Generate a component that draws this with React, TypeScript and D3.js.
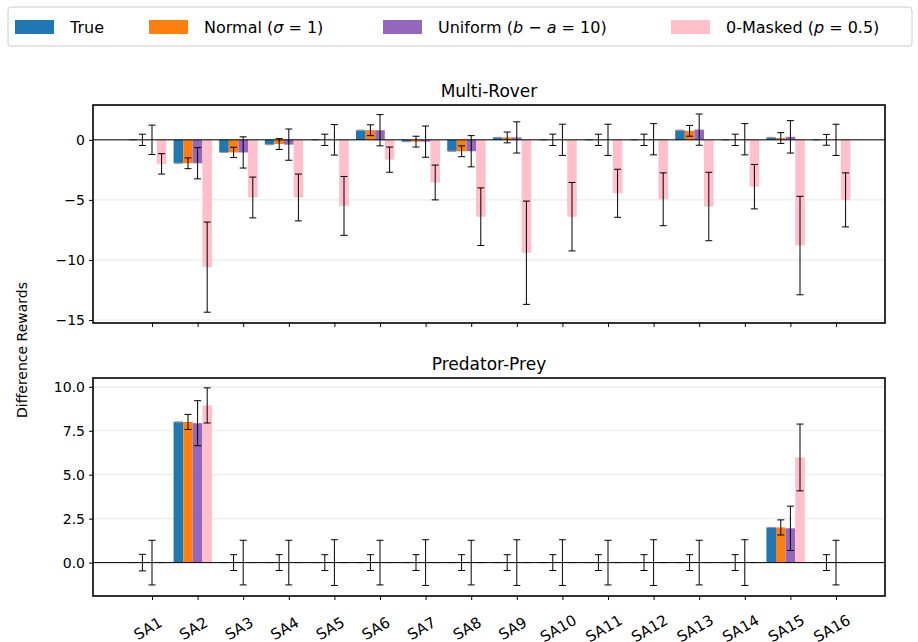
import React, { useEffect, useRef } from "react";
import * as d3 from "d3";

const agents = ["SA1","SA2","SA3","SA4","SA5","SA6","SA7","SA8","SA9","SA10","SA11","SA12","SA13","SA14","SA15","SA16"];

// Multi-Rover
const roverTrue = [0, -1.95, -1.05, -0.4, 0, 0.8, -0.15, -0.95, 0.2, 0, 0, 0, 0.8, 0, 0.2, 0];
const roverNormal = [0, -1.95, -1.05, -0.35, 0, 0.8, -0.15, -0.95, 0.2, 0, 0, 0, 0.75, 0, 0.15, 0];
const roverNormalErr = [0.47, 0.45, 0.43, 0.45, 0.47, 0.45, 0.45, 0.45, 0.45, 0.47, 0.47, 0.47, 0.45, 0.47, 0.45, 0.45];
const roverUniform = [0, -1.95, -1.05, -0.4, 0, 0.8, -0.15, -0.95, 0.2, 0, 0, 0.05, 0.85, 0.05, 0.25, 0];
const roverUniformErr = [1.22, 1.3, 1.3, 1.3, 1.27, 1.3, 1.3, 1.3, 1.3, 1.3, 1.3, 1.3, 1.3, 1.3, 1.35, 1.3];
const roverMasked = [-2.0, -10.6, -4.8, -4.8, -5.5, -1.65, -3.55, -6.4, -9.4, -6.4, -4.45, -4.95, -5.55, -3.9, -8.8, -5.0];
const roverMaskedErr = [0.85, 3.75, 1.7, 1.95, 2.45, 1.05, 1.45, 2.4, 4.3, 2.85, 2.0, 2.2, 2.85, 1.85, 4.1, 2.25];

// Predator-Prey
const predTrue = [0, 8.0, 0, 0, 0, 0, 0, 0, 0, 0, 0, 0, 0, 0, 2.0, 0];
const predNormal = [0, 8.0, 0, 0, 0, 0, 0, 0, 0, 0, 0, 0, 0, 0, 2.0, 0];
const predNormalErr = [0.47, 0.43, 0.45, 0.45, 0.45, 0.45, 0.45, 0.45, 0.45, 0.45, 0.45, 0.45, 0.45, 0.45, 0.43, 0.45];
const predUniform = [0, 7.93, 0, 0, 0, 0, 0, 0, 0, 0, 0, 0, 0, 0, 1.95, 0];
const predUniformErr = [1.27, 1.28, 1.27, 1.27, 1.3, 1.27, 1.3, 1.27, 1.3, 1.3, 1.27, 1.3, 1.27, 1.3, 1.26, 1.27];
const predMasked = [0, 8.94, 0, 0, 0, 0, 0, 0, 0, 0, 0, 0, 0, 0, 5.98, 0];
const predMaskedErr = [0, 1.0, 0, 0, 0, 0, 0, 0, 0, 0, 0, 0, 0, 0, 1.9, 0];

const roverTicks = [0, -5, -10, -15];
const predTicks = [0, 2.5, 5, 7.5, 10];

const colors = ["#1f77b4", "#ff7f0e", "#9467bd", "#ffc0cb"];
const font = "DejaVu Sans, sans-serif";

export default function App() {
  const ref = useRef<SVGSVGElement>(null);

  useEffect(() => {
    const svg = d3.select(ref.current);
    svg.selectAll("*").remove();
    const left = 93, right = 885;
    const x = d3.scaleLinear().domain([0, 15]).range([152, 836]);
    const w = 9.6;

    const panels = [
      {
        title: "Multi-Rover", titleY: 97, top: 105, bottom: 323, domain: [-15.25, 2.9], ticks: roverTicks,
        fmt: (d: number) => String(d).replace("-", "\u2212"),
        series: [
          [roverTrue, roverTrue.map(() => 0)],
          [roverNormal, roverNormalErr],
          [roverUniform, roverUniformErr],
          [roverMasked, roverMaskedErr],
        ],
        showX: false,
      },
      {
        title: "Predator-Prey", titleY: 370, top: 378, bottom: 596, domain: [-1.9, 10.5], ticks: predTicks,
        fmt: (d: number) => d.toFixed(1),
        series: [
          [predTrue, predTrue.map(() => 0)],
          [predNormal, predNormalErr],
          [predUniform, predUniformErr],
          [predMasked, predMaskedErr],
        ],
        showX: true,
      },
    ];

    panels.forEach((p) => {
      const y = d3.scaleLinear().domain(p.domain).range([p.bottom, p.top]);
      const g = svg.append("g");
      const clipId = "clip-" + p.top;
      svg.append("clipPath").attr("id", clipId).append("rect")
        .attr("x", left).attr("y", p.top).attr("width", right - left).attr("height", p.bottom - p.top);
      const plot = g.append("g").attr("clip-path", `url(#${clipId})`);

      plot.selectAll("line.grid").data(p.ticks).join("line")
        .attr("x1", left).attr("x2", right)
        .attr("y1", (d) => y(d)).attr("y2", (d) => y(d))
        .attr("stroke", "#ebebeb").attr("stroke-width", 1.2);

      p.series.forEach(([vals], si) => {
        const cx = (i: number) => x(i) + (si - 2) * w;
        plot.selectAll(`rect.s${si}`).data(vals).join("rect")
          .attr("x", (_d, i) => cx(i) - w / 2)
          .attr("width", w)
          .attr("y", (d) => Math.min(y(d), y(0)))
          .attr("height", (d) => Math.abs(y(d) - y(0)))
          .attr("fill", colors[si]);
      });
      p.series.forEach(([vals, errs], si) => {
        const cx = (i: number) => x(i) + (si - 2) * w;
        const eg = plot.append("g").attr("stroke", "#000").attr("stroke-width", 1);
        vals.forEach((v, i) => {
          const e = errs[i];
          const c = cx(i);
          eg.append("line").attr("x1", c).attr("x2", c).attr("y1", y(v - e)).attr("y2", y(v + e));
          [v - e, v + e].forEach((yy) =>
            eg.append("line").attr("x1", c - 3.5).attr("x2", c + 3.5).attr("y1", y(yy)).attr("y2", y(yy))
              .attr("stroke", e === 0 ? "#999" : "#000"));
        });
      });

      plot.append("line").attr("x1", left).attr("x2", right).attr("y1", y(0)).attr("y2", y(0))
        .attr("stroke", "#000").attr("stroke-width", 1);

      g.append("rect").attr("x", left).attr("y", p.top).attr("width", right - left).attr("height", p.bottom - p.top)
        .attr("fill", "none").attr("stroke", "#000").attr("stroke-width", 1.6);

      const ya = g.append("g").attr("transform", `translate(${left},0)`)
        .call(d3.axisLeft(y).tickValues(p.ticks).tickSize(4).tickPadding(4).tickFormat((d) => p.fmt(d as number)));
      ya.select(".domain").remove();
      ya.selectAll("text").attr("font-size", 14).attr("font-family", font).attr("fill", "#000");

      const xa = g.append("g").attr("transform", `translate(0,${p.bottom})`)
        .call(d3.axisBottom(x).tickValues(d3.range(16)).tickSize(4).tickFormat((d) => agents[d as number]));
      xa.select(".domain").remove();
      if (p.showX) {
        xa.selectAll(".tick text").attr("font-size", 15).attr("font-family", font).attr("fill", "#000")
          .attr("text-anchor", "middle").attr("x", 0).attr("y", 0).attr("dy", 0)
          .attr("transform", "translate(-2,37) rotate(-30)");
      } else {
        xa.selectAll("text").remove();
      }

      svg.append("text").attr("x", (left + right) / 2).attr("y", p.titleY)
        .attr("text-anchor", "middle").attr("font-size", 17).attr("font-family", font).text(p.title);
    });

    svg.append("text").attr("transform", "translate(27,350) rotate(-90)")
      .attr("text-anchor", "middle").attr("font-size", 14).attr("font-family", font).text("Difference Rewards");

    // legend
    const lg = svg.append("g");
    lg.append("rect").attr("x", 8).attr("y", 7).attr("width", 904).attr("height", 39).attr("rx", 3)
      .attr("fill", "#fff").attr("stroke", "#ccc");
    const entries: [number, number, string[][]][] = [
      [15, 70, [["True", ""]]],
      [149, 204, [["Normal (", ""], ["σ", "i"], [" = 1)", ""]]],
      [383, 438, [["Uniform (", ""], ["b", "i"], [" − ", ""], ["a", "i"], [" = 10)", ""]]],
      [671, 726, [["0-Masked (", ""], ["p", "i"], [" = 0.5)", ""]]],
    ];
    entries.forEach(([px, tx, parts], i) => {
      lg.append("rect").attr("x", px).attr("y", 20).attr("width", 39).attr("height", 14).attr("fill", colors[i]);
      const t = lg.append("text").attr("x", tx).attr("y", 33).attr("font-size", 16).attr("font-family", font);
      parts.forEach(([s, st]) => t.append("tspan").attr("font-style", st === "i" ? "italic" : "normal").text(s));
    });
  }, []);

  return <svg ref={ref} width={918} height={642} style={{ position: "absolute", left: 0, top: 0, background: "#fff" }} />;
}
